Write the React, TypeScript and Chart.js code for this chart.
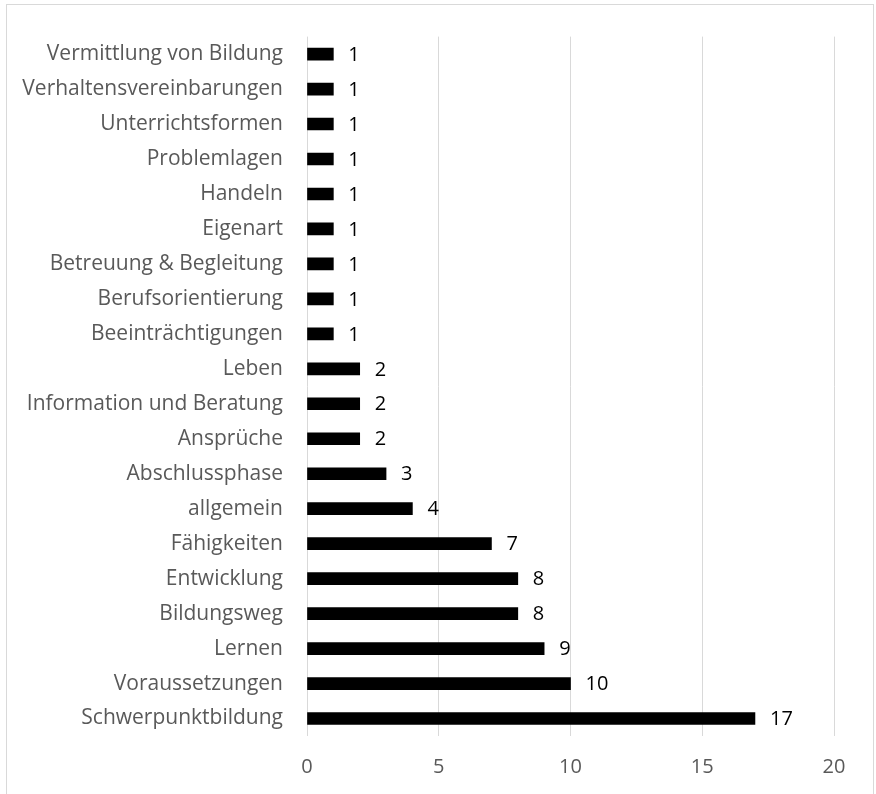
import React, { useEffect, useRef } from "react";
import { Chart, registerables } from "chart.js";

Chart.register(...registerables);

const categories: string[] = [
  "Vermittlung von Bildung",
  "Verhaltensvereinbarungen",
  "Unterrichtsformen",
  "Problemlagen",
  "Handeln",
  "Eigenart",
  "Betreuung & Begleitung",
  "Berufsorientierung",
  "Beeinträchtigungen",
  "Leben",
  "Information und Beratung",
  "Ansprüche",
  "Abschlussphase",
  "allgemein",
  "Fähigkeiten",
  "Entwicklung",
  "Bildungsweg",
  "Lernen",
  "Voraussetzungen",
  "Schwerpunktbildung",
];

const counts: number[] = [1, 1, 1, 1, 1, 1, 1, 1, 1, 2, 2, 2, 3, 4, 7, 8, 8, 9, 10, 17];

const xTicks: number[] = [0, 5, 10, 15, 20];

const FONT = "'Open Sans', sans-serif";

const valueLabels = {
  id: "valueLabels",
  afterDatasetsDraw(chart: any) {
    const ctx = chart.ctx;
    const meta = chart.getDatasetMeta(0);
    ctx.save();
    ctx.fillStyle = "#000000";
    ctx.font = `20px ${FONT}`;
    ctx.textAlign = "left";
    ctx.textBaseline = "middle";
    meta.data.forEach((bar: any, i: number) => {
      ctx.fillText(String(counts[i]), bar.x + 15, bar.y + 1);
    });
    ctx.restore();
  },
};

export default function App() {
  const canvasRef = useRef<HTMLCanvasElement | null>(null);

  useEffect(() => {
    document.body.style.overflow = "hidden";
    const canvas = canvasRef.current;
    if (!canvas) return;
    const chart = new Chart(canvas, {
      type: "bar",
      data: {
        labels: categories,
        datasets: [
          {
            data: counts,
            backgroundColor: "#000000",
            borderWidth: 0,
            barThickness: 12,
          },
        ],
      },
      options: {
        indexAxis: "y",
        animation: false,
        responsive: false,
        maintainAspectRatio: false,
        layout: { padding: { top: 33, right: 42, left: 0, bottom: 0 } },
        plugins: {
          legend: { display: false },
          tooltip: { enabled: false },
        },
        scales: {
          x: {
            min: 0,
            max: 20,
            afterBuildTicks: (scale: any) => {
              scale.ticks = xTicks.map((v) => ({ value: v }));
            },
            afterFit: (scale: any) => {
              scale.height = 58;
            },
            grid: { color: "#d9d9d9", lineWidth: 1, drawTicks: false },
            border: { display: false },
            ticks: {
              color: "#595959",
              font: { family: FONT, size: 20 },
              padding: 19,
            },
          },
          y: {
            afterFit: (scale: any) => {
              scale.width = 307;
            },
            grid: { display: false, drawTicks: false },
            border: { display: false },
            ticks: {
              color: "#595959",
              font: { family: FONT, size: 21 },
              padding: 24,
              autoSkip: false,
            },
          },
        },
      },
      plugins: [valueLabels],
    });
    return () => chart.destroy();
  }, []);

  return (
    <div style={{ position: "fixed", left: 0, top: 0, width: 876, height: 794, background: "#ffffff" }}>
      <div
        style={{
          position: "absolute",
          left: 6,
          top: 4,
          width: 868,
          height: 820,
          border: "1px solid #d9d9d9",
          boxSizing: "border-box",
        }}
      />
      <canvas ref={canvasRef} width={876} height={794} style={{ position: "absolute", left: 0, top: 0 }} />
    </div>
  );
}
